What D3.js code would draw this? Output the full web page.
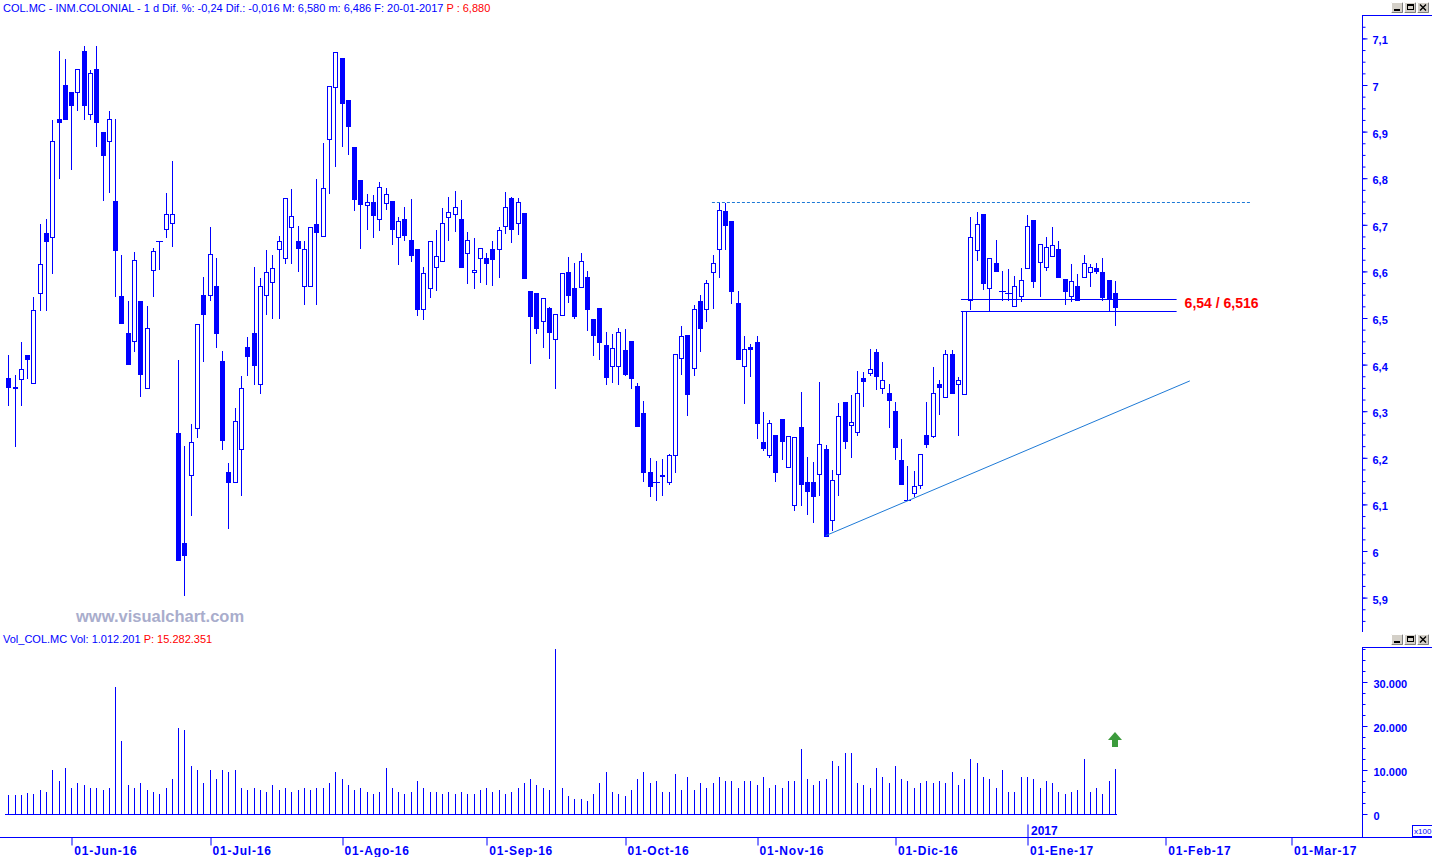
<!DOCTYPE html>
<html><head><meta charset="utf-8">
<script src="https://cdn.jsdelivr.net/npm/d3@7"></script>
<style>
body{margin:0;background:#fff;overflow:hidden;}
svg{display:block;}
text{font-family:"Liberation Sans",Arial,sans-serif;}
</style></head><body>
<svg id="c" width="1432" height="857"></svg>
<script>
// ---------- DATA ----------
const openP=[6.371,6.352,6.370,6.420,6.361,6.554,6.682,6.673,6.927,7.000,6.985,6.985,7.073,6.937,7.035,6.899,6.879,6.752,6.547,6.468,
6.450,6.536,6.350,6.604,6.665,6.692,6.704,6.253,6.018,6.164,6.263,6.549,6.549,6.569,6.407,6.169,6.147,6.218,6.438,6.467,
6.358,6.549,6.578,6.647,6.628,6.696,6.666,6.568,6.568,6.702,6.677,6.885,6.995,7.057,6.967,6.868,6.797,6.742,6.748,6.712,
6.746,6.751,6.673,6.713,6.667,6.647,6.520,6.564,6.609,6.622,6.716,6.723,6.712,6.639,6.598,6.628,6.628,6.647,6.647,6.697,
6.757,6.703,6.725,6.558,6.554,6.493,6.521,6.456,6.507,6.598,6.564,6.566,6.587,6.497,6.521,6.441,6.396,6.397,6.432,6.450,
6.354,6.297,6.169,6.147,6.163,6.147,6.207,6.414,6.463,6.392,6.536,6.519,6.598,6.647,6.729,6.708,6.532,6.398,6.437,6.448,
6.233,6.207,6.249,6.283,6.181,6.098,6.267,6.147,6.147,6.166,6.219,6.066,6.166,6.320,6.270,6.255,6.371,6.383,6.427,6.349,
6.339,6.300,6.195,6.110,6.124,6.142,6.248,6.247,6.358,6.330,6.423,6.358,6.336,6.539,6.645,6.723,6.564,6.618,6.558,6.553,
6.525,6.548,6.608,6.710,6.621,6.610,6.634,6.647,6.583,6.548,6.568,6.587,6.598,6.608,6.599,6.582,6.554];
const highP=[6.420,6.377,6.449,6.420,6.545,6.702,6.712,6.925,7.073,7.056,6.985,7.034,7.084,7.032,7.084,6.899,6.944,6.927,6.635,6.536,
6.642,6.536,6.526,6.651,6.666,6.768,6.837,6.410,6.225,6.273,6.488,6.588,6.695,6.629,6.429,6.188,6.307,6.376,6.460,6.609,
6.586,6.646,6.635,6.675,6.757,6.777,6.697,6.665,6.696,6.798,6.876,6.997,7.071,7.057,6.967,6.868,6.797,6.766,6.765,6.792,
6.779,6.751,6.717,6.738,6.755,6.647,6.609,6.665,6.689,6.735,6.760,6.773,6.753,6.685,6.672,6.650,6.639,6.665,6.695,6.770,
6.760,6.758,6.725,6.558,6.554,6.542,6.524,6.508,6.596,6.631,6.618,6.639,6.601,6.497,6.521,6.470,6.466,6.478,6.476,6.450,
6.361,6.321,6.199,6.193,6.197,6.208,6.422,6.483,6.463,6.528,6.549,6.582,6.635,6.746,6.747,6.708,6.558,6.461,6.444,6.461,
6.298,6.281,6.249,6.283,6.247,6.244,6.341,6.202,6.191,6.363,6.227,6.174,6.317,6.320,6.335,6.386,6.385,6.433,6.433,6.406,
6.358,6.320,6.240,6.182,6.172,6.208,6.320,6.395,6.367,6.431,6.431,6.374,6.515,6.717,6.727,6.723,6.628,6.667,6.601,6.605,
6.590,6.607,6.721,6.710,6.659,6.674,6.695,6.665,6.583,6.616,6.594,6.635,6.616,6.619,6.629,6.582,6.580];
const lowP=[6.314,6.226,6.314,6.372,6.361,6.517,6.517,6.597,6.800,6.927,6.820,6.947,6.927,6.927,6.870,6.754,6.771,6.548,6.490,6.402,
6.429,6.333,6.350,6.548,6.606,6.674,6.655,5.981,5.905,6.078,6.245,6.407,6.539,6.438,6.218,6.049,6.147,6.120,6.377,6.359,
6.340,6.509,6.499,6.499,6.618,6.618,6.600,6.529,6.568,6.530,6.677,6.769,6.827,6.870,6.851,6.731,6.650,6.692,6.673,6.689,
6.733,6.659,6.615,6.667,6.623,6.507,6.498,6.546,6.561,6.622,6.668,6.687,6.610,6.576,6.565,6.578,6.574,6.571,6.589,6.682,
6.664,6.681,6.586,6.404,6.468,6.438,6.415,6.350,6.507,6.534,6.501,6.566,6.474,6.421,6.413,6.359,6.363,6.359,6.378,6.350,
6.269,6.151,6.117,6.110,6.120,6.144,6.170,6.380,6.291,6.378,6.430,6.494,6.522,6.589,6.648,6.533,6.411,6.318,6.376,6.243,
6.217,6.202,6.150,6.197,6.181,6.088,6.099,6.079,6.063,6.121,6.033,6.046,6.121,6.220,6.202,6.250,6.312,6.377,6.348,6.340,
6.266,6.198,6.144,6.110,6.117,6.136,6.224,6.245,6.294,6.330,6.340,6.249,6.336,6.520,6.625,6.562,6.516,6.600,6.539,6.539,
6.525,6.536,6.608,6.567,6.547,6.603,6.634,6.589,6.529,6.536,6.538,6.587,6.569,6.596,6.539,6.515,6.486];
const closeP=[6.353,6.351,6.390,6.411,6.517,6.615,6.666,6.880,6.920,6.927,6.958,7.034,6.958,7.025,6.920,6.850,6.927,6.645,6.490,6.402,
6.624,6.380,6.478,6.643,6.665,6.723,6.723,5.981,5.992,6.233,6.488,6.509,6.637,6.468,6.239,6.149,6.278,6.349,6.419,6.400,
6.568,6.598,6.608,6.666,6.757,6.718,6.650,6.647,6.696,6.685,6.778,6.997,7.071,6.961,6.913,6.755,6.744,6.748,6.720,6.781,
6.767,6.692,6.708,6.679,6.636,6.520,6.596,6.665,6.633,6.703,6.727,6.738,6.610,6.667,6.603,6.650,6.619,6.627,6.688,6.738,
6.692,6.748,6.586,6.505,6.479,6.542,6.471,6.508,6.596,6.550,6.505,6.622,6.520,6.464,6.449,6.374,6.435,6.471,6.380,6.371,
6.269,6.170,6.140,6.147,6.160,6.205,6.422,6.461,6.336,6.519,6.479,6.575,6.617,6.731,6.699,6.559,6.411,6.434,6.433,6.275,
6.220,6.274,6.170,6.237,6.247,6.244,6.144,6.129,6.117,6.229,6.033,6.152,6.289,6.237,6.276,6.339,6.365,6.390,6.376,6.366,
6.325,6.224,6.144,6.110,6.139,6.208,6.230,6.339,6.353,6.422,6.340,6.368,6.515,6.673,6.702,6.576,6.628,6.600,6.558,6.553,
6.568,6.582,6.697,6.580,6.659,6.652,6.656,6.589,6.559,6.579,6.538,6.617,6.610,6.600,6.546,6.540,6.524];
// volume in x100 shares
const volume=[4300,4300,4300,4800,4500,5500,5000,10000,7500,10500,6000,7000,6500,6000,6000,5500,6000,28900,16500,6500,
6000,7000,5500,5000,4500,6000,8000,19500,19000,11000,10000,7000,10000,8000,10000,9500,10000,6000,5500,6000,
5500,5000,6500,5500,6000,5000,5500,6000,5500,6000,6000,7000,9500,8000,6500,5500,6000,5000,4500,5000,
10500,6000,5000,4500,5000,7500,6000,5000,5000,4500,5000,4500,5000,4500,4500,5500,6000,5000,5500,4500,
5000,6000,7000,8000,6500,6000,5500,37500,6000,4000,3500,3500,3000,4500,7000,9500,5000,4500,4000,5500,
8000,9500,7000,7500,5000,5000,9000,5500,8500,5500,7000,6000,7000,8500,7500,7500,6000,7500,7500,6500,
8500,6000,6500,6000,7500,7500,14800,8000,6500,7500,8000,12000,11000,13800,13800,7000,6500,6000,10500,8500,
7000,11000,8000,7500,6000,7000,7500,7000,7500,7000,9500,6500,8000,12500,11500,8500,8000,6000,10000,5000,
5000,8500,8500,8000,6000,7500,7000,5000,4500,5000,5500,12500,5000,6000,4500,7500,10200];
const monthTickIdx=[10,32,53,76,98,119,141,162,184,204];
const monthTickLabels=["01-Jun-16","01-Jul-16","01-Ago-16","01-Sep-16","01-Oct-16","01-Nov-16","01-Dic-16","01-Ene-17","01-Feb-17","01-Mar-17"];
const yearTickIdx=[162], yearTickLabels=["2017"];
const priceTicks=[5.9,6.0,6.1,6.2,6.3,6.4,6.5,6.6,6.7,6.8,6.9,7.0,7.1];
const priceTickLabels=["5,9","6","6,1","6,2","6,3","6,4","6,5","6,6","6,7","6,8","6,9","7","7,1"];
const volTicks=[0,10000,20000,30000];
const volTickLabels=["0","10.000","20.000","30.000"];
// annotations (in data units: bar index, price)
const resistance={x0:111.9,x1:197.7,price:6.75};
const supports=[6.54,6.516], supportRange=[151.5,185.8], supportLabel="6,54 / 6,516";
const trendLine=[[130,6.033],[187.9,6.365]];

// ---------- SCALES ----------
const BLUE="#0000ff";
const svg=d3.select("#c");
const x=d3.scaleLinear().domain([0,176]).range([8.3,1115]);
const y=d3.scaleLinear().domain([6,7]).range([551,85]);
const yv=d3.scaleLinear().domain([0,30000]).range([814,682]);
const px=i=>Math.round(x(i));

// header bars
const hdr=svg.append("text").attr("x",3).attr("y",12).attr("font-size",11);
hdr.append("tspan").attr("fill",BLUE).text("COL.MC - INM.COLONIAL -  1 d Dif. %: -0,24 Dif.: -0,016 M: 6,580 m: 6,486 F: 20-01-2017 ");
hdr.append("tspan").attr("fill","#ff0000").text("P : 6,880");

function winButtons(yTop){
  const g=svg.append("g").attr("transform",`translate(1391,${yTop})`);
  [0,13,26].forEach((dx,k)=>{
    g.append("rect").attr("x",dx).attr("y",0).attr("width",12).attr("height",11).attr("fill","#d4d0c8");
    g.append("path").attr("d",`M${dx+11.5},0.5V10.5H${dx+0.5}`).attr("stroke","#808080").attr("fill","none");
    g.append("path").attr("d",`M${dx+0.5},10.5V0.5H${dx+11.5}`).attr("stroke","#ffffff").attr("fill","none");
  });
  g.append("rect").attr("x",3).attr("y",7).attr("width",6).attr("height",2).attr("fill","#000");
  g.append("rect").attr("x",16.5).attr("y",2.5).attr("width",6).attr("height",5).attr("fill","none").attr("stroke","#000");
  g.append("rect").attr("x",16).attr("y",2).attr("width",7).attr("height",2).attr("fill","#000");
  g.append("path").attr("d","M29,2.5L35,8.5M35,2.5L29,8.5").attr("stroke","#000").attr("stroke-width",1.4);
}
winButtons(2);
winButtons(634);

// watermark
svg.append("text").attr("x",76).attr("y",622).attr("font-size",16.5).attr("font-weight","bold")
  .attr("fill","#a9adcc").text("www.visualchart.com");

// ---------- PRICE AXIS ----------
svg.append("path").attr("d","M1362.5,15V632M1362,15.5H1432").attr("stroke",BLUE).attr("fill","none");
const minor=d3.range(5.85,7.16,0.025).filter(v=>y(v)>17&&y(v)<630);
svg.append("g").attr("transform","translate(1362.5,0)")
  .call(d3.axisRight(y).tickValues(minor).tickSize(3).tickFormat(""))
  .call(g=>{g.select(".domain").remove();g.selectAll("line").attr("stroke",BLUE);});
svg.append("g").attr("transform","translate(1362.5,0)")
  .call(d3.axisRight(y).tickValues(priceTicks).tickSize(5).tickPadding(5).tickFormat((d,i)=>priceTickLabels[i]))
  .call(g=>{g.select(".domain").remove();g.selectAll("line").attr("stroke",BLUE);
    g.selectAll("text").attr("fill",BLUE).attr("font-size",11).attr("font-weight","bold").attr("dy","0.5em")
     .attr("font-family","'Liberation Sans',Arial,sans-serif");});

// ---------- CANDLES ----------
const data=openP.map((o,i)=>({i,o,h:highP[i],l:lowP[i],c:closeP[i],v:volume[i]}));
const cg=svg.append("g");
cg.selectAll("line.w").data(data).join("line").attr("class","w")
  .attr("x1",d=>px(d.i)+0.5).attr("x2",d=>px(d.i)+0.5)
  .attr("y1",d=>Math.round(y(d.h))).attr("y2",d=>Math.round(y(d.l))+1)
  .attr("stroke",BLUE).attr("stroke-width",1);
cg.selectAll("rect.b").data(data).join("rect").attr("class","b")
  .each(function(d){
    const top=Math.round(y(Math.max(d.o,d.c))), bot=Math.round(y(Math.min(d.o,d.c)));
    const s=d3.select(this);
    if(d.c<d.o){ // bearish: filled
      s.attr("x",px(d.i)-2).attr("y",top).attr("width",5).attr("height",Math.max(bot-top,1)+1)
       .attr("fill",BLUE);
    } else if(bot-top<1){ // doji
      s.attr("x",px(d.i)-3).attr("y",top).attr("width",7).attr("height",1).attr("fill",BLUE);
    } else {
      s.attr("x",px(d.i)-1.5).attr("y",top+0.5).attr("width",4).attr("height",bot-top)
       .attr("fill","#fff").attr("stroke",BLUE).attr("stroke-width",1);
    }
  });

// ---------- ANNOTATIONS ----------
svg.append("line").attr("x1",x(resistance.x0)).attr("x2",x(resistance.x1))
  .attr("y1",Math.round(y(resistance.price))+0.5).attr("y2",Math.round(y(resistance.price))+0.5)
  .attr("stroke","#1e7ad6").attr("stroke-dasharray","3,2");
supports.forEach(p=>svg.append("line").attr("x1",x(supportRange[0])).attr("x2",x(supportRange[1]))
  .attr("y1",Math.round(y(p))+0.5).attr("y2",Math.round(y(p))+0.5).attr("stroke",BLUE));
svg.append("text").attr("x",x(supportRange[1])+8).attr("y",y(d3.mean(supports))+3)
  .attr("font-size",14).attr("font-weight","bold").attr("fill","#ff0000").text(supportLabel);
svg.append("line").attr("x1",x(trendLine[0][0])).attr("y1",y(trendLine[0][1]))
  .attr("x2",x(trendLine[1][0])).attr("y2",y(trendLine[1][1])).attr("stroke","#1e7ad6").attr("stroke-width",1);

// ---------- VOLUME PANEL ----------
const vh=svg.append("text").attr("x",3).attr("y",643).attr("font-size",11);
vh.append("tspan").attr("fill",BLUE).text("Vol_COL.MC Vol: 1.012.201  ");
vh.append("tspan").attr("fill","#ff0000").text("P: 15.282.351");
svg.append("path").attr("d","M1362.5,647V837M1362,647.5H1432").attr("stroke",BLUE).attr("fill","none");
const vminor=d3.range(0,38000,2500).filter(v=>yv(v)>648);
svg.append("g").attr("transform","translate(1362.5,0)")
  .call(d3.axisRight(yv).tickValues(vminor).tickSize(3).tickFormat(""))
  .call(g=>{g.select(".domain").remove();g.selectAll("line").attr("stroke",BLUE);});
svg.append("g").attr("transform","translate(1362.5,0)")
  .call(d3.axisRight(yv).tickValues(volTicks).tickSize(5).tickPadding(6).tickFormat((d,i)=>volTickLabels[i]))
  .call(g=>{g.select(".domain").remove();g.selectAll("line").attr("stroke",BLUE);
    g.selectAll("text").attr("fill",BLUE).attr("font-size",11).attr("font-weight","bold").attr("dy","0.5em")
     .attr("font-family","'Liberation Sans',Arial,sans-serif");});
svg.append("g").selectAll("rect").data(data).join("rect")
  .attr("x",d=>px(d.i)).attr("width",1)
  .attr("y",d=>Math.round(yv(d.v))).attr("height",d=>814-Math.round(yv(d.v)))
  .attr("fill",BLUE);
svg.append("line").attr("x1",5).attr("x2",x(176)+2).attr("y1",814.5).attr("y2",814.5).attr("stroke",BLUE);
// green arrow
svg.append("path").attr("d","M1115,732L1122,740L1118,740L1118,747L1112,747L1112,740L1108,740Z").attr("fill","#3c9b3c");
// x100 box
svg.append("rect").attr("x",1412.5).attr("y",825.5).attr("width",20).attr("height",11).attr("fill","#fff").attr("stroke",BLUE);
svg.append("text").attr("x",1414).attr("y",834).attr("font-size",8).attr("fill",BLUE).text("x100");

// ---------- TIME AXIS ----------
svg.append("line").attr("x1",0).attr("x2",1432).attr("y1",837.5).attr("y2",837.5).attr("stroke",BLUE);
svg.append("g").attr("transform","translate(0.5,837.5)")
  .call(d3.axisBottom(x).tickValues(monthTickIdx).tickSize(8).tickPadding(2).tickFormat((d,i)=>monthTickLabels[i]))
  .call(g=>{g.select(".domain").remove();g.selectAll("line").attr("stroke",BLUE)
      .attr("transform",d=>`translate(${px(d)-x(d)},0)`);
    g.selectAll("text").attr("fill",BLUE).attr("font-size",12).attr("font-weight","bold")
     .attr("text-anchor","start").attr("letter-spacing","0.8px").attr("dx",2).attr("y",17).attr("dy",0)
     .attr("font-family","'Liberation Sans',Arial,sans-serif");});
svg.append("g").attr("transform","translate(0.5,837.5)")
  .call(d3.axisTop(x).tickValues(yearTickIdx).tickSize(13).tickPadding(2).tickFormat((d,i)=>yearTickLabels[i]))
  .call(g=>{g.select(".domain").remove();g.selectAll("line").attr("stroke",BLUE)
      .attr("transform",d=>`translate(${px(d)-x(d)},0)`);
    g.selectAll("text").attr("fill",BLUE).attr("font-size",12).attr("font-weight","bold")
     .attr("text-anchor","start").attr("dx",3).attr("y",-3)
     .attr("font-family","'Liberation Sans',Arial,sans-serif");});
</script></body></html>
